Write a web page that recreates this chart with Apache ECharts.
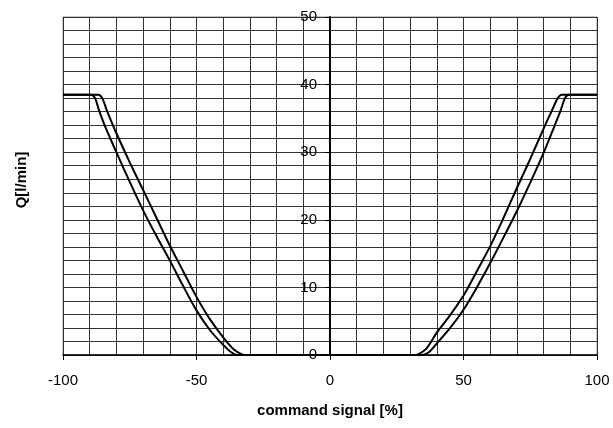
<!DOCTYPE html>
<html>
<head>
<meta charset="utf-8">
<script src="https://cdn.jsdelivr.net/npm/echarts@6/dist/echarts.min.js"></script>
<style>
html,body{margin:0;padding:0;background:#fff;}
#c{width:613px;height:428px;}
</style>
</head>
<body>
<div id="c"></div>
<script>
// Outer curve (wider zero band)
const xOuter = [-100, -89.5, -88, -86.5, -84, -80, -75, -70, -65, -60, -55, -50, -45, -40, -37, -35,
                34.5, 37, 40, 45, 50, 55, 60, 65, 70, 75, 80, 84, 86.5, 88, 89.5, 100];
const yOuter = [38.5, 38.5, 38, 36.2, 33.6, 30, 25.6, 21.4, 17.6, 14, 10.2, 6.6, 3.7, 1.5, 0.4, 0,
                0, 0.4, 1.7, 4, 6.7, 10, 13.6, 17.4, 21.3, 25.5, 29.9, 33.8, 36.3, 38, 38.5, 38.5];
// Inner curve (narrower zero band)
const xInner = [-100, -86.8, -85.3, -83.6, -80, -75, -70, -65, -60, -55, -50, -45, -40, -36, -33, -31,
                31, 33, 36, 40, 45, 50, 55, 60, 65, 70, 75, 80, 83.5, 85.3, 86.8, 100];
const yInner = [38.5, 38.5, 38, 36.2, 32.8, 28.5, 24.4, 20.3, 16.2, 12.4, 8.6, 5.3, 2.6, 0.8, 0.1, 0,
                0, 0.1, 0.9, 3.3, 5.9, 8.8, 12.4, 16.1, 20.3, 24.7, 29, 33.5, 36.5, 38, 38.5, 38.5];
const xTitle = 'command signal [%]';
const yTitle = 'Q[l/min]';

const zip = (xs, ys) => xs.map((x, i) => [x, ys[i]]);
const font = '"Liberation Sans", Arial, sans-serif';

const gridLeft = 63, gridRight = 16;
const plotW = 613 - gridLeft - gridRight;

const chart = echarts.init(document.getElementById('c'), null, {renderer: 'canvas'});
chart.setOption({
  animation: false,
  backgroundColor: '#fff',
  grid: {left: gridLeft, right: gridRight, top: 17, bottom: 73, show: true, borderColor: '#8a8a8a', borderWidth: 1},
  xAxis: {
    type: 'value', min: -100, max: 100, interval: 50,
    name: xTitle, nameLocation: 'middle', nameGap: 48,
    nameTextStyle: {fontFamily: font, fontSize: 15, fontWeight: 'bold', color: '#000'},
    axisLine: {show: true, onZero: false, lineStyle: {color: '#000', width: 1.5}},
    axisTick: {show: true, length: 5, lineStyle: {color: '#000'}},
    axisLabel: {fontFamily: font, fontSize: 15, color: '#000', margin: 18},
    splitLine: {show: true, lineStyle: {color: '#333', width: 1}},
    minorTick: {show: false, splitNumber: 5},
    minorSplitLine: {show: true, lineStyle: {color: '#333', width: 1}}
  },
  yAxis: {
    type: 'value', min: 0, max: 50, interval: 10, position: 'left', offset: -plotW / 2,
    axisLine: {show: true, onZero: false, lineStyle: {color: '#000', width: 2}},
    axisTick: {show: true, length: 5, lineStyle: {color: '#000'}},
    axisLabel: {fontFamily: font, fontSize: 15, color: '#000', margin: 13},
    splitLine: {show: true, lineStyle: {color: '#333', width: 1}},
    minorTick: {show: false, splitNumber: 5},
    minorSplitLine: {show: true, lineStyle: {color: '#333', width: 1}}
  },
  graphic: [{
    type: 'text', rotation: Math.PI / 2,
    style: {text: yTitle, font: 'bold 15px ' + font, fill: '#000', textAlign: 'center', textVerticalAlign: 'middle'},
    x: 22, y: 180
  }],
  series: [
    {type: 'line', data: zip(xOuter, yOuter), showSymbol: false, smooth: 0.3,
     lineStyle: {color: '#000', width: 2}, z: 5},
    {type: 'line', data: zip(xInner, yInner), showSymbol: false, smooth: 0.3,
     lineStyle: {color: '#000', width: 2}, z: 5}
  ]
});
</script>
</body>
</html>
